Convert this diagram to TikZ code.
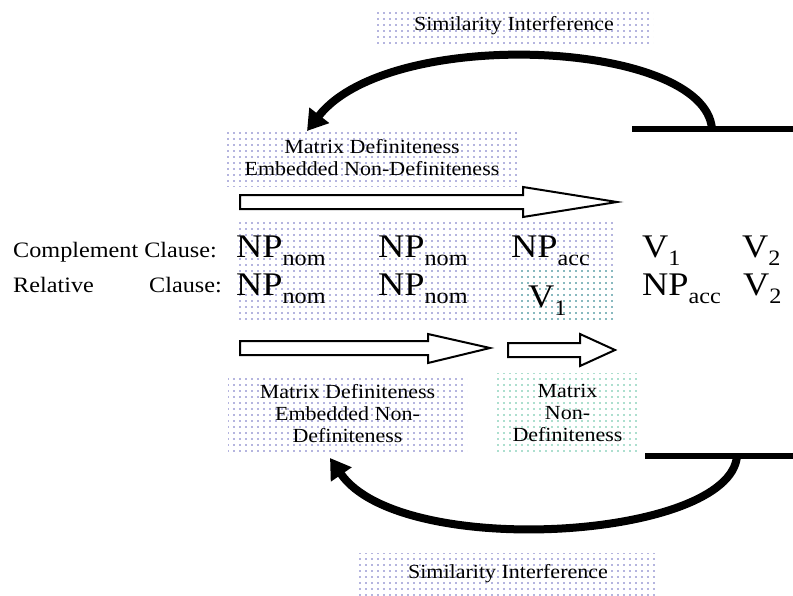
\documentclass[tikz,border=0pt]{standalone}
\usepackage{fontspec}
\setmainfont[FakeStretch=1.1]{Liberation Serif}
\usetikzlibrary{arrows.meta,patterns.meta}

\definecolor{dotblue}{RGB}{70,70,175}
\definecolor{dotgreen}{RGB}{50,175,135}

\newcommand{\constit}[2]{{\fontsize{33}{33}\selectfont #1}\raisebox{-8pt}{\fontsize{22}{22}\selectfont #2}}

\tikzset{
    bluedots/.style={fill=white, pattern={Dots[distance=6pt, radius=0.9pt]}, pattern color=dotblue!80},
    greendots/.style={fill=white, pattern={Dots[distance=6pt, radius=0.9pt]}, pattern color=dotgreen!80},
    lbl/.style={font=\fontsize{20}{22}\selectfont, align=center, inner sep=0pt},
    clause/.style={font=\fontsize{22}{24}\selectfont, inner sep=0pt},
    sym/.style={inner sep=0pt, anchor=base west},
    hollow/.style={draw=black, line width=2pt, fill=white, line join=miter},
    curved/.style={line width=8pt, -{Triangle[length=20pt, width=24pt]}},
    bar/.style={line width=6pt}
}

\begin{document}
\begin{tikzpicture}[x=1pt, y=-1pt]
    \useasboundingbox[fill=white] (0,0) rectangle (793,595);

    % Dotted backgrounds
    \fill[bluedots] (237,219) rectangle (613,322);
    \fill[greendots] (519,270) rectangle (613,322);

    % Label boxes
    \node[lbl, bluedots, minimum width=278pt, minimum height=35pt] (simtop) at (514,25.5) {Similarity Interference};
    \node[lbl, bluedots, minimum width=290pt, minimum height=57pt] (mdtop) at (372,157.5) {Matrix Definiteness\\Embedded Non-Definiteness};
    \node[lbl, bluedots, minimum width=239pt, minimum height=77pt] (mdbot) at (347.5,413.5) {Matrix Definiteness\\Embedded Non-\\Definiteness};
    \node[lbl, greendots, minimum width=145pt, minimum height=80pt] (mnd) at (567.5,413) {Matrix\\Non-\\Definiteness};
    \node[lbl, bluedots, minimum width=300pt, minimum height=42pt] (simbot) at (508,574) {Similarity Interference};

    % Clause labels
    \node[clause, anchor=base west] (comp) at (13,257) {Complement Clause:};
    \node[clause, anchor=base west] (rel) at (13,292) {Relative};
    \node[clause, anchor=base east] (relc) at (222,292) {Clause:};

    % Complement clause row
    \node[sym] (ca) at (236,257) {\constit{NP}{nom}};
    \node[sym] (cb) at (378,257) {\constit{NP}{nom}};
    \node[sym] (cc) at (511,257) {\constit{NP}{acc}};
    \node[sym] (cd) at (642,257) {\constit{V}{1}};
    \node[sym] (ce) at (742,257) {\constit{V}{2}};

    % Relative clause row
    \node[sym] (ra) at (236,295) {\constit{NP}{nom}};
    \node[sym] (rb) at (378,295) {\constit{NP}{nom}};
    \node[sym] (rc) at (528,307) {\constit{V}{1}};
    \node[sym] (rd) at (642,295) {\constit{NP}{acc}};
    \node[sym] (re) at (743,295) {\constit{V}{2}};

    % Hollow arrows
    \draw[hollow] (240,195) -- (523,195) -- (523,187) -- (617,202) -- (523,217) -- (523,209) -- (240,209) -- cycle;
    \draw[hollow] (240,341) -- (428,341) -- (428,334) -- (490,348) -- (428,363) -- (428,355) -- (240,355) -- cycle;
    \draw[hollow] (508,343) -- (580,343) -- (580,334) -- (615,350) -- (580,366) -- (580,357) -- (508,357) -- cycle;

    % Bars and curved arrows
    \draw[bar] (632,129) -- (793,129);
    \draw[bar] (645,456) -- (793,456);
    \coordinate (bartop) at (712,129);
    \coordinate (barbot) at (737,456);
    \coordinate (tiptop) at (307,131);
    \coordinate (tipbot) at (330,458);
    \draw[curved] (bartop) .. controls (705,40) and (390,25) .. (tiptop);
    \draw[curved] (barbot) .. controls (730,540) and (400,560) .. (tipbot);
\end{tikzpicture}
\end{document}
